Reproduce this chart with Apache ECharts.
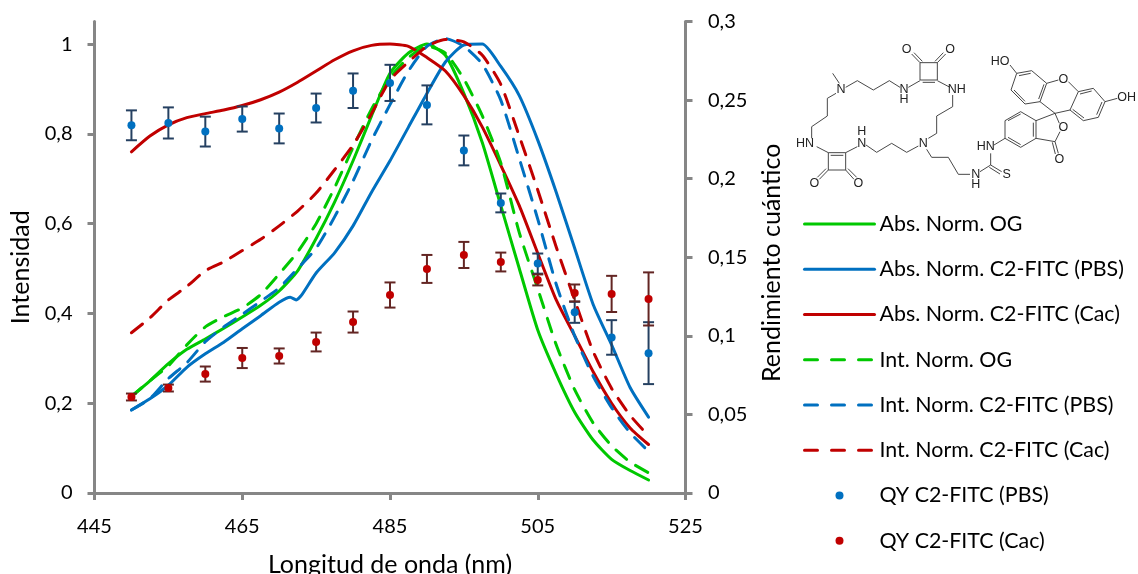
<!DOCTYPE html>
<html><head><meta charset="utf-8">
<script src="https://cdn.jsdelivr.net/npm/echarts@6/dist/echarts.min.js"></script>
<style>html,body{margin:0;padding:0;background:#fff}#c{width:1138px;height:574px}</style>
</head><body><div id="c"></div>
<script>
const wavelengths=[450,452.5,455,457.5,460,462.5,465,467.5,470,472.5,475,477.5,480,482.5,485,487.5,490,492.5,495,497.5,500,502.5,505,507.5,510,512.5,515,517.5,520];
const wavelengthsPBS=[450,452.5,455,457.5,460,462.5,465,467.5,470,471.5,472.3,473,475,477.5,480,482.5,485,487.5,490,492.5,495,497.5,500,502.5,505,507.5,510,512.5,515,517.5,520];
const wavelengthsQY=[450,455,460,465,470,475,480,485,490,495,500,505,510,515,520];
const absOG=[.215,.25,.288,.32,.343,.367,.392,.418,.45,.495,.567,.648,.74,.84,.935,.98,1,.975,.89,.78,.64,.5,.363,.265,.18,.118,.075,.05,.029];
const absPBS=[.185,.21,.24,.28,.31,.336,.366,.395,.425,.436,.43,.44,.49,.535,.595,.67,.74,.815,.89,.96,.998,1,.95,.885,.786,.67,.545,.42,.33,.235,.169];
const absCac=[.76,.795,.82,.836,.845,.853,.863,.876,.893,.915,.94,.965,.985,.997,1,.995,.97,.94,.885,.815,.73,.64,.534,.43,.35,.27,.2,.145,.108];
const intOG=[.215,.25,.283,.33,.37,.393,.412,.442,.488,.537,.6,.68,.77,.855,.925,.97,.995,.98,.922,.84,.735,.58,.455,.33,.23,.156,.105,.069,.045];
const intPBS=[.185,.21,.255,.29,.337,.37,.398,.427,.457,.5,.545,.615,.695,.785,.865,.94,.995,1.012,.995,.955,.875,.745,.61,.465,.35,.26,.19,.134,.093];
const intCac=[.357,.39,.43,.46,.495,.515,.54,.565,.595,.628,.668,.72,.775,.845,.92,.96,.995,1.01,1.005,.975,.91,.795,.675,.548,.43,.315,.233,.173,.127];
const qyPBS=[.234,.2355,.23,.238,.232,.245,.256,.261,.247,.218,.1846,.146,.115,.099,.089];
const qyPBSErr=[.0095,.0099,.0095,.008,.0095,.0092,.011,.0115,.0124,.0095,.006,.0064,.0067,.011,.0197];
const qyCac=[.0611,.0668,.0757,.0859,.0872,.0961,.1088,.126,.1426,.1515,.147,.1356,.1273,.1267,.1235];
const qyCacErr=[.0022,.0022,.0048,.0064,.0048,.006,.0067,.008,.0089,.0083,.006,.0035,.0054,.0115,.0169];
const xTicks=[445,465,485,505,525];
const leftTicks=[0,.2,.4,.6,.8,1];
const rightTicks=[0,.05,.1,.15,.2,.25,.3];
const names=['Abs. Norm. OG','Abs. Norm. C2-FITC (PBS)','Abs. Norm. C2-FITC (Cac)','Int. Norm. OG','Int. Norm. C2-FITC (PBS)','Int. Norm. C2-FITC (Cac)','QY C2-FITC (PBS)','QY C2-FITC (Cac)'];

const FONT='Lato';
const GREEN='#00C800',BLUE='#0070C0',RED='#C00000',AX='#868686';
const zip=(a,b)=>a.map((v,i)=>[v,b[i]]);
const comma=v=>String(v).replace('.',',');
function line(name,xs,ys,color,dash){
  return {type:'line',name,data:zip(xs,ys),symbol:'none',smooth:0.2,z:dash?3:2,
    lineStyle:{color,width:3,cap:'round',join:'round',type:dash?[14,11]:'solid'},itemStyle:{color}};
}
function err(ys,es,color){
  return {type:'custom',name:'err'+color,yAxisIndex:1,z:5,silent:true,
    data:wavelengthsQY.map((x,i)=>[x,ys[i],es[i]]),encode:{x:0,y:1},
    renderItem(p,api){
      const x=api.value(0),y=api.value(1),e=api.value(2);
      const a=api.coord([x,y+e]),b=api.coord([x,y-e]);
      const st={stroke:color,lineWidth:2,fill:null};
      return {type:'group',children:[
        {type:'line',shape:{x1:a[0],y1:a[1],x2:b[0],y2:b[1]},style:st},
        {type:'line',shape:{x1:a[0]-5.5,y1:a[1],x2:a[0]+5.5,y2:a[1]},style:st},
        {type:'line',shape:{x1:b[0]-5.5,y1:b[1],x2:b[0]+5.5,y2:b[1]},style:st}]};
    }};
}
const bonds=[[420,98,472,98],[472,98,472,150],[472,150,420,150],[420,150,420,98],[428,157,465,157],
[420,98,395,72],[427,94,402,68],[472,98,497,72],[465,94,490,68],
[420,152,385,172],[472,152,510,172],[360,172,328,152],[328,152,280,180],[280,180,232,152],[232,152,197,172],[178,160,158,130],
[168,190,142,205],[142,205,142,258],[142,258,95,290],[95,290,95,325],[110,350,145,368],
[145,368,197,368],[197,368,197,420],[197,420,145,420],[145,420,145,368],[152,376,190,376],
[145,420,118,448],[138,416,112,442],[197,420,222,448],[204,416,230,442],[197,368,232,350],
[258,345,290,367],[290,367,335,340],[335,340,380,367],[380,367,415,348],[445,325,470,310],[470,310,470,258],[470,258,518,230],[518,230,518,195],
[440,358,455,382],[455,382,505,382],[505,382,535,433],[535,433,570,433],[600,425,632,405],[632,405,665,425],[628,412,660,432],[632,405,632,370],[642,345,675,325],
[675,325,675,272],[675,272,722,245],[722,245,768,272],[768,272,768,325],[768,325,722,352],[722,352,675,325],[684,272,722,252],[760,278,760,320],[722,344,684,322],
[768,272,825,250],[825,250,838,280],[840,305,825,335],[825,335,768,325],[825,335,835,370],[817,337,826,372],
[825,250,780,215],[825,250,870,240],
[710,130,755,122],[755,122,800,160],[800,160,780,215],[780,215,735,222],[735,222,693,180],[693,180,710,130],[717,137,752,130],[792,163,776,207],[735,214,702,180],
[690,105,710,130],[800,160,835,150],[865,155,895,185],
[895,185,940,175],[940,175,975,215],[975,215,955,262],[955,262,910,272],[910,272,870,240],[870,240,895,185],[900,192,935,183],[966,216,950,254],[912,264,878,238],
[975,215,1012,205]];
const atoms=[['O',380,60],['O',510,60],['N',372,180],['H',372,210],['NH',530,178],['N',183,180],['HN',75,342],['O',103,460],['O',235,460],['H',245,305],['N',245,340],['N',430,340],['N',587,433],['H',587,465],['S',680,433],['HN',617,350],['O',850,293],['O',838,388],['HO',660,95],['O',850,150],['OH',1040,202]];
const OX=780,OY=30,S=1/3;
const mol=[];
bonds.forEach(b=>mol.push({type:'line',silent:true,shape:{x1:OX+b[0]*S,y1:OY+b[1]*S,x2:OX+b[2]*S,y2:OY+b[3]*S},style:{stroke:'#333',lineWidth:0.9}}));
atoms.forEach(a=>mol.push({type:'text',silent:true,x:OX+a[1]*S,y:OY+a[2]*S,style:{text:a[0],font:'12.5px "Liberation Sans"',fill:'#222',align:'center',verticalAlign:'middle'}}));

const nameStyle={fontFamily:FONT,fontSize:25,color:'#000'};
const axisCommon={axisLine:{onZero:false,lineStyle:{color:AX,width:3}},axisTick:{length:7,lineStyle:{color:AX,width:3}},splitLine:{show:false},
  nameTextStyle:nameStyle};
const lbl={fontFamily:FONT,fontSize:20,color:'#000'};
const legendData=names.map((name,i)=>{
  if(i>=6) return {name};
  const color=[GREEN,BLUE,RED][i%3];
  return {name,itemStyle:{opacity:0},lineStyle:{color,width:3,cap:'round',type:i<3?'solid':[13,14]}};
});
const chart=echarts.init(document.getElementById('c'),null,{renderer:'canvas'});
chart.setOption({animation:false,backgroundColor:'#fff',
  grid:{left:94.5,top:21.6,width:591,height:471.4,outerBoundsMode:'none'},
  xAxis:{type:'value',min:445,max:525,interval:20,...axisCommon,
    name:'Longitud de onda (nm)',nameLocation:'middle',nameGap:59,
    axisLabel:{...lbl,margin:24,formatter:v=>String(v),customValues:xTicks},axisTick:{...axisCommon.axisTick,customValues:xTicks}},
  yAxis:[
   {type:'value',min:0,max:1.05,position:'left',...axisCommon,
    name:'Intensidad',nameLocation:'middle',nameGap:60,nameTextStyle:{...nameStyle,padding:[0,20,0,0]},
    axisLabel:{...lbl,margin:22,formatter:comma,customValues:leftTicks},axisTick:{...axisCommon.axisTick,customValues:leftTicks}},
   {type:'value',min:0,max:.3,interval:.05,position:'right',...axisCommon,
    name:'Rendimiento cuántico',nameLocation:'middle',nameGap:74,nameRotate:90,nameTextStyle:{...nameStyle,padding:[0,11,0,0]},
    axisLabel:{...lbl,margin:22.5,formatter:comma,customValues:rightTicks},axisTick:{...axisCommon.axisTick,customValues:rightTicks}}],
  legend:{orient:'vertical',left:803,top:213,padding:0,itemWidth:70,itemHeight:8,itemGap:23.25,data:legendData,
    textStyle:{fontFamily:FONT,fontSize:21.4,color:'#000',lineHeight:22},selectedMode:false},
  series:[
    line(names[0],wavelengths,absOG,GREEN,false),
    line(names[1],wavelengthsPBS,absPBS,BLUE,false),
    line(names[2],wavelengths,absCac,RED,false),
    line(names[3],wavelengths,intOG,GREEN,true),
    line(names[4],wavelengths,intPBS,BLUE,true),
    line(names[5],wavelengths,intCac,RED,true),
    err(qyPBS,qyPBSErr,'#254061'),
    err(qyCac,qyCacErr,'#632523'),
    {type:'scatter',name:names[6],yAxisIndex:1,z:6,data:zip(wavelengthsQY,qyPBS),symbolSize:8,itemStyle:{color:BLUE,opacity:1}},
    {type:'scatter',name:names[7],yAxisIndex:1,z:6,data:zip(wavelengthsQY,qyCac),symbolSize:8,itemStyle:{color:RED,opacity:1}}
  ],
  graphic:{elements:mol}
});
</script></body></html>
